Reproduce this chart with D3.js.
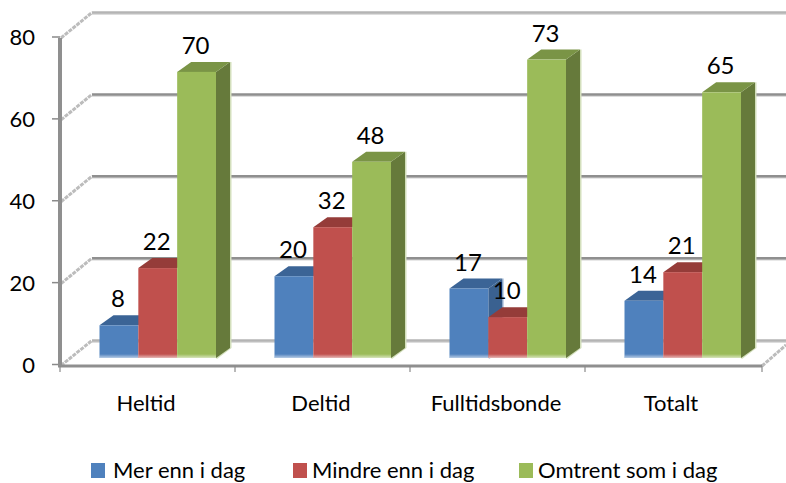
<!DOCTYPE html>
<html><head><meta charset="utf-8">
<script src="https://cdn.jsdelivr.net/npm/d3@7"></script>
<style>html,body{margin:0;padding:0;background:#fff}svg{display:block}text{font-family:Lato,"Open Sans",sans-serif;fill:#000}</style>
</head><body><svg id="c" width="786" height="483"></svg>
<script>
const categories = ["Heltid","Deltid","Fulltidsbonde","Totalt"];
const seriesNames = ["Mer enn i dag","Mindre enn i dag","Omtrent som i dag"];
const merEnn = [8,20,17,14];
const mindreEnn = [22,32,10,21];
const omtrent = [70,48,73,65];
const yTicks = [0,20,40,60,80];
const front = ["#4f81bd","#c0504d","#9bbb59"];
const top_ = ["#3b6496","#953c39","#7a9446"];
const side = ["#3a6190","#7f3432","#667a3b"];
const halo = ["#b9cbe2","#e3bcbb","#d3dfbc"];

const svg = d3.select("#c");
const dx = 32, dy = -25, bdx = 14, bdy = -10, floorEnd = 762;
const x = d3.scaleBand().domain(categories).range([60,760]);
const y = d3.scaleLinear().domain([0,80]).range([364.5,37]);
const yBar = d3.scaleLinear().domain([0,80]).range([358,31]);
const inner = d3.scaleBand().domain(seriesNames).range([0,116.5]);
const values = [merEnn,mindreEnn,omtrent];

const defs = svg.append("defs");
const fade = defs.append("linearGradient").attr("id","fade").attr("x1",0).attr("y1",0).attr("x2",0).attr("y2",1);
fade.append("stop").attr("offset","0").attr("stop-color","#fff").attr("stop-opacity",0);
fade.append("stop").attr("offset","1").attr("stop-color","#fff").attr("stop-opacity",.6);

// walls
const gGrid = svg.append("g");
yTicks.forEach(t=>{
  const yy = y(t);
  const light = t===0 || t===80;
  const ly = yy+dy+(t===0?1:0.5);
  gGrid.append("line").attr("x1",60+dx).attr("x2",786).attr("y1",ly+1.5).attr("y2",ly+1.5)
    .attr("stroke","#d2d2d2").attr("stroke-width",1.5);
  gGrid.append("line").attr("x1",60+dx).attr("x2",786).attr("y1",ly).attr("y2",ly)
    .attr("stroke",light?"#b4b4b4":"#8f8f8f").attr("stroke-width",2.5);
  gGrid.append("line").attr("x1",61).attr("x2",60+dx).attr("y1",yy+1).attr("y2",ly)
    .attr("stroke","#bcbcbc").attr("stroke-width",3).attr("stroke-dasharray","4 1");
  gGrid.append("line").attr("x1",52).attr("x2",60).attr("y1",yy).attr("y2",yy)
    .attr("stroke","#8a8a8a").attr("stroke-width",1.5);
  svg.append("text").attr("x",35).attr("y",yy+8).attr("text-anchor","end")
    .attr("font-size",22).text(t);
});
// right slanted floor edge
gGrid.append("line").attr("x1",floorEnd).attr("x2",786).attr("y1",366).attr("y2",345)
  .attr("stroke","#bcbcbc").attr("stroke-width",3).attr("stroke-dasharray","4 1");
// axes
gGrid.append("line").attr("x1",60).attr("x2",60).attr("y1",38).attr("y2",367)
  .attr("stroke","#8f8f8f").attr("stroke-width",4);
gGrid.append("line").attr("x1",58).attr("x2",floorEnd).attr("y1",366).attr("y2",366)
  .attr("stroke","#8f8f8f").attr("stroke-width",3);
categories.map(c=>x(c)).concat([floorEnd]).forEach(xx=>{
  gGrid.append("line").attr("x1",xx).attr("x2",xx).attr("y1",366).attr("y2",372)
    .attr("stroke","#8a8a8a").attr("stroke-width",1.2);
});

// bars
categories.forEach((c,ci)=>{
  const g = svg.append("g");
  const x0 = x(c)+39.5;
  seriesNames.forEach((s,si)=>{
    const v = values[si][ci];
    const l = x0+inner(s), w = inner.bandwidth(), r = l+w, t = yBar(v), b = yBar(0);
    if (si===2 || values[si+1][ci] < v) {
      g.append("path").attr("d",d3.line()([[r+bdx,t+bdy],[r+bdx+1.5,t+bdy],[r+bdx+1.5,b+bdy],[r+1,b+1],[r,b]])).attr("fill",halo[si]);
      g.append("path").attr("d",d3.line()([[r,t],[r+bdx,t+bdy],[r+bdx,b+bdy],[r,b]])).attr("fill",side[si]);
    }
    g.append("path").attr("d",d3.line()([[l,t],[l+bdx,t+bdy],[r+bdx,t+bdy],[r,t]])).attr("fill",top_[si]);
    g.append("rect").attr("x",l).attr("y",t).attr("width",w).attr("height",b-t).attr("fill",front[si]);
    g.append("rect").attr("x",l).attr("y",b-4).attr("width",w).attr("height",4).attr("fill","url(#fade)");
  });
  seriesNames.forEach((s,si)=>{
    const v = values[si][ci];
    svg.append("text").attr("x",x0+inner(s)+inner.bandwidth()/2-1).attr("y",yBar(v)+bdy-8)
      .attr("text-anchor","middle").attr("font-size",24).text(v);
  });
  svg.append("text").attr("x",x(c)+x.bandwidth()/2-1.5).attr("y",411)
    .attr("text-anchor","middle").attr("font-size",22).text(c);
});

// legend
const legendX = [91,293,519];
const legendTextX = [113,312,538];
seriesNames.forEach((s,i)=>{
  svg.append("rect").attr("x",legendX[i]).attr("y",463).attr("width",14).attr("height",15).attr("fill",front[i]);
  svg.append("text").attr("x",legendTextX[i]).attr("y",477.5).attr("font-size",22).text(s);
});
</script></body></html>
